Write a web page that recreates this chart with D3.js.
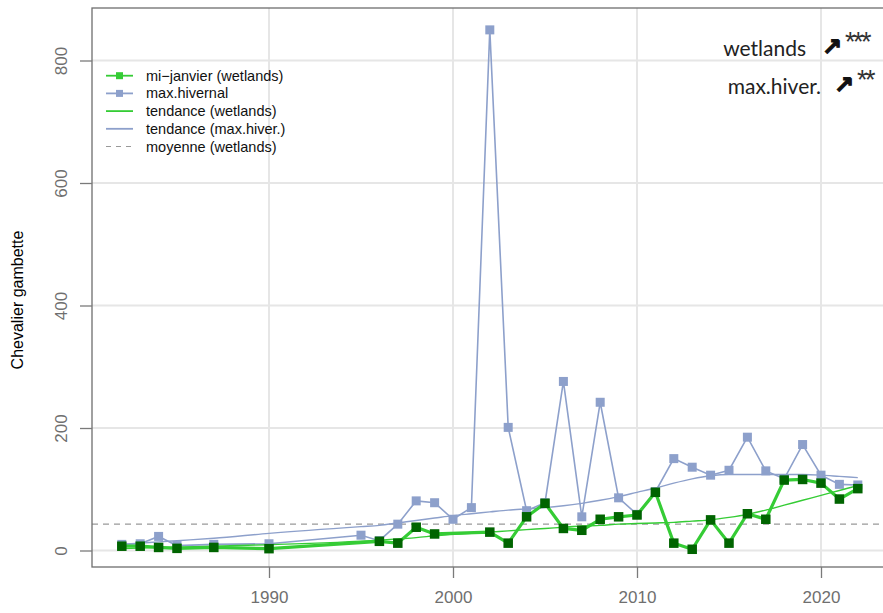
<!DOCTYPE html>
<html><head><meta charset="utf-8">
<script src="https://cdn.jsdelivr.net/npm/d3@7"></script>
<style>
html,body{margin:0;padding:0;background:#fff;}
svg{display:block;}
</style></head>
<body>
<svg id="chart" width="883" height="613"></svg>
<script>
// ---- data ----
const wetYears = [1982,1983,1984,1985,1987,1990,1996,1997,1998,1999,2002,2003,2004,2005,2006,2007,2008,2009,2010,2011,2012,2013,2014,2015,2016,2017,2018,2019,2020,2021,2022];
const wetValues = [7,7,5,3.5,5,3,15,12,38,27,30,12,55,77,36,33,51,55,58,95,12,2,50,12,60,51,115,116,110,84,101];
const wetTrend = [3,4,5,5.5,7,9.5,17,19,21,24,30,32,34,36,38,40,41,43,44,45,46,48,50,54,59,66,74,82,90,98,106];
const maxYears = [1982,1983,1984,1985,1987,1990,1995,1996,1997,1998,1999,2000,2001,2002,2003,2004,2005,2006,2007,2008,2009,2010,2011,2012,2013,2014,2015,2016,2017,2018,2019,2020,2021,2022];
const maxValues = [10,11,23,8,10,11,25,16,43,81,78,51,70,850,201,65,78,276,55,242,86,59,96,150,136,123,131,185,130,117,173,123,108,107];
const maxTrend = [10,12,14,16,20,28,39,41,45,49,53,57,60,63,66,68,70,73,77,82,88,95,102,110,117,122,124,124,124,124,124,123,121,119];
const wetMean = 43;
const xTicks = [1990,2000,2010,2020];
const yTicks = [0,200,400,600,800];
const yLabel = "Chevalier gambette";
const legendItems = [
  {label:"mi\u2212janvier (wetlands)", type:"linepoint", key:"wet"},
  {label:"max.hivernal", type:"linepoint", key:"max"},
  {label:"tendance (wetlands)", type:"line", key:"wet"},
  {label:"tendance (max.hiver.)", type:"line", key:"max"},
  {label:"moyenne (wetlands)", type:"dash", key:"mean"}
];
const annotations = [
  {label:"wetlands", stars:"***"},
  {label:"max.hiver.", stars:"**"}
];

// ---- styles ----
const C = {wet:"#35cc35", wetPt:"#006400", max:"#8DA0CB", mean:"#999999", grid:"#e6e6e6", axis:"#6e6e6e", tick:"#7a7a7a"};

const svg = d3.select("#chart");
const L = 92, R = 884, T = 8, B = 567;
const x = d3.scaleLinear().domain([1990,2020]).range([269,821]);
const y = d3.scaleLinear().domain([0,800]).range([550.5,60.5]);

// grid
svg.append("g").selectAll("line.v").data(xTicks).join("line")
  .attr("x1",d=>x(d)).attr("x2",d=>x(d)).attr("y1",T).attr("y2",B)
  .attr("stroke",C.grid).attr("stroke-width",2);
svg.append("g").selectAll("line.h").data(yTicks).join("line")
  .attr("x1",L).attr("x2",R).attr("y1",d=>y(d)).attr("y2",d=>y(d))
  .attr("stroke",C.grid).attr("stroke-width",2);

// mean line
svg.append("line").attr("x1",L).attr("x2",R).attr("y1",y(wetMean)).attr("y2",y(wetMean))
  .attr("stroke",C.mean).attr("stroke-width",1.3).attr("stroke-dasharray","6,5");

const line = d3.line().x(d=>x(d[0])).y(d=>y(d[1]));
const smooth = d3.line().curve(d3.curveMonotoneX).x(d=>x(d[0])).y(d=>y(d[1]));
const maxData = maxYears.map((yr,i)=>[yr,maxValues[i]]);
const wetData = wetYears.map((yr,i)=>[yr,wetValues[i]]);
const maxTr = maxYears.map((yr,i)=>[yr,maxTrend[i]]);
const wetTr = wetYears.map((yr,i)=>[yr,wetTrend[i]]);

// max series
svg.append("path").datum(maxData).attr("d",line).attr("fill","none")
  .attr("stroke",C.max).attr("stroke-width",1.6);
svg.append("g").selectAll("rect").data(maxData).join("rect")
  .attr("x",d=>x(d[0])-4.5).attr("y",d=>y(d[1])-4.5).attr("width",9).attr("height",9)
  .attr("fill",C.max);
svg.append("path").datum(maxTr).attr("d",smooth)
  .attr("fill","none").attr("stroke",C.max).attr("stroke-width",1.4);

// wetlands
svg.append("path").datum(wetTr).attr("d",smooth)
  .attr("fill","none").attr("stroke",C.wet).attr("stroke-width",1.4);
svg.append("path").datum(wetData).attr("d",line).attr("fill","none")
  .attr("stroke",C.wet).attr("stroke-width",3.2).attr("stroke-linejoin","round");
svg.append("g").selectAll("rect").data(wetData).join("rect")
  .attr("x",d=>x(d[0])-4.75).attr("y",d=>y(d[1])-4.75).attr("width",9.5).attr("height",9.5)
  .attr("fill",C.wetPt);

// box
svg.append("rect").attr("x",L).attr("y",T).attr("width",R-L).attr("height",B-T)
  .attr("fill","none").attr("stroke",C.axis).attr("stroke-width",1.3);

// x axis
const xa = svg.append("g").attr("transform",`translate(0,${B})`)
  .call(d3.axisBottom(x).tickValues(xTicks).tickSize(11).tickPadding(13).tickFormat(d3.format("d")));
xa.select(".domain").remove();
xa.selectAll("line").attr("stroke",C.tick).attr("stroke-width",1.3);
xa.selectAll("text").attr("fill","#6f6f6f").attr("font-family","Liberation Sans, Arial, sans-serif").attr("font-size",17);

// y axis
const ya = svg.append("g").attr("transform",`translate(${L},0)`)
  .call(d3.axisLeft(y).tickValues(yTicks).tickSize(12).tickFormat(d3.format("d")));
ya.select(".domain").remove();
ya.selectAll("line").attr("stroke",C.tick).attr("stroke-width",1.3);
ya.selectAll("text").attr("fill","#6f6f6f").attr("font-family","Liberation Sans, Arial, sans-serif").attr("font-size",17)
  .attr("x",0).attr("dy",0).attr("text-anchor","middle")
  .attr("transform","translate(-25,0) rotate(-90)");

// y label
svg.append("text").attr("transform","translate(23,300) rotate(-90)").attr("text-anchor","middle")
  .attr("font-family","Liberation Sans, Arial, sans-serif").attr("font-size",16).attr("fill","#000").text(yLabel);

// legend
const lg = svg.append("g");
legendItems.forEach((it,i)=>{
  const cy = 75.7 + i*17.7;
  const col = it.key==="wet"?C.wet:(it.key==="max"?C.max:C.mean);
  const ln = lg.append("line").attr("x1",106).attr("x2",133).attr("y1",cy).attr("y2",cy)
    .attr("stroke",col).attr("stroke-width",it.type==="dash"?1.2:1.8);
  if(it.type==="dash") ln.attr("stroke-dasharray","5,5");
  if(it.type==="linepoint") lg.append("rect").attr("x",116).attr("y",cy-3.5).attr("width",7).attr("height",7).attr("fill",col);
  lg.append("text").attr("x",146).attr("y",cy+5).attr("font-family","Liberation Sans, Arial, sans-serif")
    .attr("font-size",14.5).attr("fill","#111").text(it.label);
});

// annotations
const an = svg.append("g");
const annX = [806, 821], annY = [56, 94], arrX = [822, 834], starX = [845, 857];
annotations.forEach((a,i)=>{
  an.append("text").attr("x",annX[i]).attr("y",annY[i]).attr("text-anchor","end")
    .attr("font-family","Lato, Open Sans, sans-serif").attr("font-size",21).attr("fill","#222").text(a.label);
  an.append("text").attr("x",arrX[i]).attr("y",annY[i]-1)
    .attr("font-family","DejaVu Sans, sans-serif").attr("font-size",24).attr("font-weight","bold")
    .attr("fill","#111").attr("stroke","#111").attr("stroke-width",1.1).text("\u2197");
  an.append("text").attr("x",starX[i]).attr("y",annY[i]-5)
    .attr("font-family","Liberation Sans, Arial, sans-serif").attr("font-size",27).attr("letter-spacing",-2.5)
    .attr("fill","#333").text(a.stars);
});
</script>
</body></html>
